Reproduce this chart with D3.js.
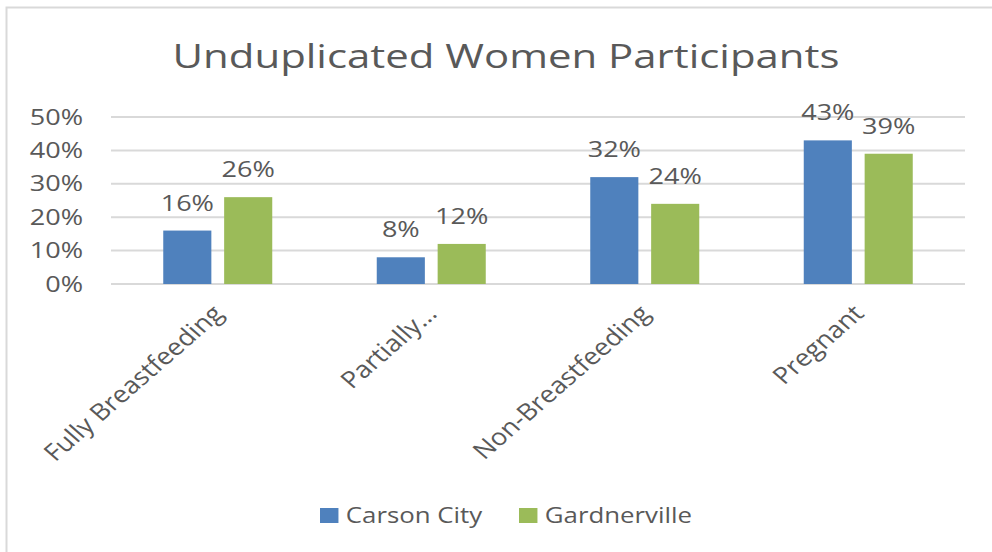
<!DOCTYPE html>
<html>
<head>
<meta charset="utf-8">
<script src="https://cdn.jsdelivr.net/npm/d3@7"></script>
<style>
  body { margin: 0; background: #fff; }
  text { font-family: "Open Sans", sans-serif; fill: #595959; }
</style>
</head>
<body>
<div id="chart"></div>
<script>
// chart data
let categories = ["Fully Breastfeeding", "Partially\u2026", "Non-Breastfeeding", "Pregnant"];
let seriesNames = ["Carson City", "Gardnerville"];
let carsonCity = [16, 8, 32, 43];
let gardnerville = [26, 12, 24, 39];
let yTicks = [0, 10, 20, 30, 40, 50];
let colors = ["#4f81bd", "#9bbb59"];

function loadGraph() {
    let plotWidth = 992;
    let plotHeight = 552;
    // the picture is stretched sideways, so text gets a horizontal scale
    let sx = 1.23;

    let margin = { top: 117, right: 27, bottom: 268, left: 111 };
    let width = plotWidth - margin.left - margin.right;
    let height = plotHeight - margin.top - margin.bottom;

    let svg = d3.select("#chart")
        .append("svg")
        .attr("width", plotWidth)
        .attr("height", plotHeight);

    // outer frame (only top and left visible)
    svg.append("rect")
        .attr("x", 6.5).attr("y", 7.5)
        .attr("width", 1000).attr("height", 600)
        .attr("fill", "none")
        .attr("stroke", "#d9d9d9")
        .attr("stroke-width", 2);

    svg.append("text")
        .attr("transform", `translate(506, 68) scale(1.31, 1)`)
        .attr("text-anchor", "middle")
        .attr("font-size", "32px")
        .text("Unduplicated Women Participants");

    let graph = svg.append("g")
        .attr("transform", `translate(${margin.left}, ${margin.top})`);

    let x0 = d3.scaleBand()
        .domain(categories)
        .range([0, width]);

    let x1 = d3.scaleBand()
        .domain(seriesNames)
        .range([0, 109])
        .paddingInner(0.21);

    let yScale = d3.scaleLinear()
        .domain([0, 50])
        .range([height, 0]);

    // gridlines
    graph.append("g")
        .selectAll("line")
        .data(yTicks)
        .enter()
        .append("line")
        .attr("x1", 0).attr("x2", width)
        .attr("y1", d => yScale(d)).attr("y2", d => yScale(d))
        .attr("stroke", "#d9d9d9")
        .attr("stroke-width", 2);

    // y axis labels
    let yAxis = d3.axisLeft(yScale)
        .tickValues(yTicks)
        .tickFormat(d => d + "%")
        .tickSize(0)
        .tickPadding(28 / sx);
    let yAxisG = graph.append("g").call(yAxis);
    yAxisG.select(".domain").remove();
    yAxisG.selectAll("text")
        .attr("transform", `scale(${sx}, 1)`)
        .attr("font-size", "22px")
        .attr("fill", "#595959")
        .attr("font-family", "Open Sans, sans-serif");

    // bars
    let rows = categories.map((c, i) => ({
        cat: c,
        vals: [
            { name: seriesNames[0], v: carsonCity[i], color: colors[0] },
            { name: seriesNames[1], v: gardnerville[i], color: colors[1] }
        ]
    }));

    let groups = graph.selectAll(".grp")
        .data(rows)
        .enter()
        .append("g")
        .attr("class", "grp")
        .attr("transform", d => `translate(${x0(d.cat) + (x0.bandwidth() - 109) / 2}, 0)`);

    groups.selectAll("rect")
        .data(d => d.vals)
        .enter()
        .append("rect")
        .attr("x", d => x1(d.name))
        .attr("y", d => yScale(d.v))
        .attr("width", x1.bandwidth())
        .attr("height", d => height - yScale(d.v))
        .attr("fill", d => d.color);

    groups.selectAll("text")
        .data(d => d.vals)
        .enter()
        .append("text")
        .attr("transform", d => `translate(${x1(d.name) + x1.bandwidth() / 2}, ${yScale(d.v) - 20}) scale(${sx}, 1)`)
        .attr("text-anchor", "middle")
        .attr("font-size", "22px")
        .text(d => d.v + "%");

    // category labels rotated
    graph.append("g")
        .selectAll("text")
        .data(categories)
        .enter()
        .append("text")
        .attr("transform", d => `translate(${x0(d) + x0.bandwidth() / 2 + 7}, ${height + 31}) scale(1.15, 1) rotate(-45)`)
        .attr("text-anchor", "end")
        .attr("font-size", "23.5px")
        .text(d => d);

    // legend
    let legend = svg.append("g")
        .selectAll("g")
        .data(seriesNames)
        .enter()
        .append("g")
        .attr("transform", (d, i) => `translate(${[320, 519][i]}, 508) scale(${sx}, 1)`);
    legend.append("rect")
        .attr("width", 15).attr("height", 15)
        .attr("fill", (d, i) => colors[i]);
    legend.append("text")
        .attr("x", 21).attr("y", 15)
        .attr("font-size", "21px")
        .text(d => d);
}

loadGraph();
</script>
</body>
</html>
